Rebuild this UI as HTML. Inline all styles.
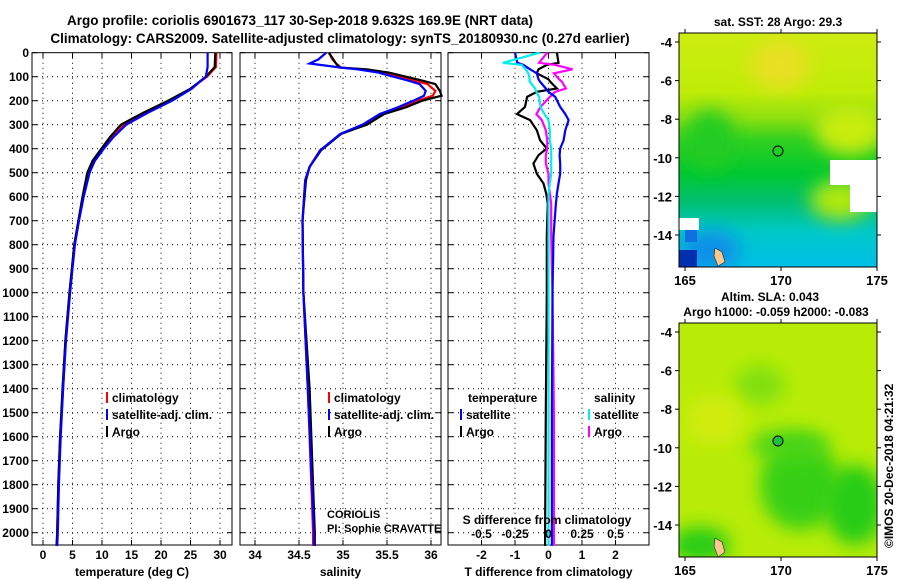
<!DOCTYPE html>
<html><head><meta charset="utf-8"><style>
html,body{margin:0;padding:0;background:#fff;width:900px;height:580px;overflow:hidden}
svg text{font-family:"Liberation Sans",sans-serif;font-weight:bold;fill:#000}
</style></head><body>
<svg id="fig" width="900" height="580" xmlns="http://www.w3.org/2000/svg">
<defs>
<linearGradient id="sstg" gradientUnits="userSpaceOnUse" x1="0" y1="33" x2="0" y2="267">
<stop offset="0" stop-color="#ccec10"/><stop offset="0.25" stop-color="#c0ec08"/>
<stop offset="0.36" stop-color="#90e010"/><stop offset="0.46" stop-color="#30d020"/>
<stop offset="0.6" stop-color="#00c830"/><stop offset="0.72" stop-color="#00c070"/>
<stop offset="0.85" stop-color="#00c8c8"/><stop offset="1" stop-color="#00c0e8"/></linearGradient>
<filter id="blur" x="-60%" y="-60%" width="220%" height="220%"><feGaussianBlur stdDeviation="9"/></filter>
<clipPath id="c1"><rect x="679" y="33" width="198" height="234"/></clipPath>
<clipPath id="c2"><rect x="679" y="323" width="198" height="234"/></clipPath>
</defs>
<text x="300" y="25" font-size="13.5" text-anchor="middle">Argo profile: coriolis 6901673_117 30-Sep-2018 9.632S 169.9E (NRT data)</text>
<text x="340" y="43" font-size="13.5" text-anchor="middle">Climatology: CARS2009. Satellite-adjusted climatology: synTS_20180930.nc (0.27d earlier)</text>
<g id="plots"></g>
<g>
<text x="778" y="26" font-size="12" text-anchor="middle">sat. SST: 28 Argo: 29.3</text>
<g clip-path="url(#c1)">
<rect x="679" y="33" width="198" height="234" fill="url(#sstg)"/>
<ellipse cx="780" cy="65" rx="30" ry="25" fill="#e8e020" filter="url(#blur)"/>
<ellipse cx="850" cy="130" rx="35" ry="25" fill="#c8ec10" filter="url(#blur)"/>
<ellipse cx="710" cy="140" rx="25" ry="30" fill="#20cc20" filter="url(#blur)"/>
<ellipse cx="710" cy="250" rx="30" ry="20" fill="#1090e8" filter="url(#blur)"/>
<ellipse cx="840" cy="200" rx="30" ry="20" fill="#b0e810" filter="url(#blur)"/>
<rect x="679" y="250" width="18" height="17" fill="#0030b0"/>
<rect x="830" y="160" width="47" height="25" fill="#fff"/>
<rect x="850" y="185" width="27" height="27" fill="#fff"/>
<rect x="679" y="218" width="20" height="12" fill="#fff"/>
<rect x="685" y="230" width="12" height="12" fill="#1070e0"/>
<path d="M715 248 L722 252 L725 262 L718 266 L714 256Z" fill="#f8c890" stroke="#000" stroke-width="0.5"/>
</g>
<rect x="679" y="33" width="198" height="234" fill="none" stroke="#000"/>
<circle cx="778" cy="151" r="5" fill="none" stroke="#000"/>
</g>
<g>
<text x="770" y="301" font-size="12" text-anchor="middle">Altim. SLA: 0.043</text>
<text x="776" y="316" font-size="12" text-anchor="middle">Argo h1000: -0.059 h2000: -0.083</text>
<g clip-path="url(#c2)">
<rect x="679" y="323" width="198" height="234" fill="#b8ec08"/>
<ellipse cx="800" cy="485" rx="40" ry="45" fill="#38d018" filter="url(#blur)"/>
<ellipse cx="855" cy="505" rx="30" ry="40" fill="#28cc18" filter="url(#blur)"/>
<ellipse cx="790" cy="445" rx="40" ry="15" fill="#48d418" filter="url(#blur)"/>
<ellipse cx="760" cy="385" rx="25" ry="20" fill="#80e010" filter="url(#blur)"/>
<ellipse cx="700" cy="545" rx="30" ry="18" fill="#28cc18" filter="url(#blur)"/>
<ellipse cx="715" cy="420" rx="30" ry="25" fill="#d0ec10" filter="url(#blur)"/>
<path d="M715 538 L722 542 L725 552 L718 557 L714 546Z" fill="#f8c890" stroke="#000" stroke-width="0.5"/>
</g>
<rect x="679" y="323" width="198" height="234" fill="none" stroke="#000"/>
<circle cx="778" cy="441" r="5" fill="#20c040" stroke="#000"/>
</g>
<text transform="translate(893,548) rotate(-90)" font-size="12" font-weight="normal">©IMOS 20-Dec-2018 04:21:32</text>
</svg>
<script>
const depthTicks=[0,100,200,300,400,500,600,700,800,900,1000,1100,1200,1300,1400,1500,1600,1700,1800,1900,2000];
const tempTicks=[0,5,10,15,20,25,30];
const salTicks=[34,34.5,35,35.5,36];
const salTickLabels=["34","34.5","35","35.5","36"];
const diffTicks=[-2,-1,0,1,2];
const sdiffTicks=[-0.5,-0.25,0,0.25,0.5];
const sdiffTickLabels=["-0.5","-0.25","0","0.25","0.5"];
const latTicks=[-4,-6,-8,-10,-12,-14];
const lonTicks=[165,170,175];

const tDepth=[0,60,100,150,200,250,300,350,400,450,500,600,700,800,900,1000,1200,1400,1600,1800,2000,2055];
const tArgo=[29.2,29.1,27.6,25,21.2,17,13.2,11.4,9.9,8.4,7.5,6.7,6.0,5.3,4.9,4.5,3.8,3.3,2.9,2.6,2.4,2.3];
const tClim=[29.4,29.3,27.8,25,21.6,17.4,13.6,11.6,10.0,8.6,7.7,6.8,6.0,5.3,4.9,4.5,3.8,3.4,2.9,2.6,2.4,2.3];
const tSat=[27.9,27.9,27.6,25.2,21.9,17.8,14.1,12,10.3,8.8,7.9,6.9,6.1,5.4,5.0,4.6,3.9,3.4,3.0,2.7,2.5,2.4];

const sDepth=[0,28,45,62,69,83,117,131,159,179,200,228,255,300,338,407,476,531,700,1000,1400,2000,2055];
const sArgo=[34.84,34.89,34.92,34.96,35.27,35.52,35.91,36.05,36.1,36.12,35.9,35.71,35.47,35.27,34.98,34.75,34.62,34.58,34.54,34.55,34.62,34.68,34.68];
const sClim=[34.84,34.88,34.92,34.98,35.22,35.45,35.82,35.96,36.05,36.02,35.85,35.66,35.45,35.24,34.98,34.74,34.62,34.57,34.54,34.55,34.6,34.66,34.66];
const sSat=[34.81,34.72,34.62,34.98,35.16,35.4,35.75,35.87,35.94,35.92,35.8,35.62,35.42,35.22,34.97,34.74,34.62,34.57,34.54,34.55,34.6,34.67,34.67];

const dDepth=[0,42,51,69,86,111,121,149,163,184,226,256,281,323,365,399,427,462,504,545,587,629,764,1000,1500,2000,2055];
const dtArgo=[0.25,0.3,-0.05,-0.3,-0.35,0.0,0.05,0.25,-0.35,-0.64,-0.7,-0.94,-0.55,-0.35,-0.25,-0.05,-0.3,-0.45,-0.35,-0.15,-0.07,-0.02,-0.05,-0.05,-0.08,-0.1,-0.1];
const dtSat=[-1.0,-0.93,-0.75,-0.55,-0.35,-0.3,-0.25,-0.08,0.0,0.2,0.35,0.5,0.6,0.5,0.45,0.35,0.33,0.35,0.35,0.3,0.25,0.22,0.15,0.12,0.1,0.1,0.1];
const dsSat=[-0.065,-0.34,-0.2,-0.17,-0.15,-0.14,-0.14,-0.1,-0.09,-0.07,-0.06,-0.03,0,0.01,0.01,0.02,0.02,0.02,0.02,0.01,0.0,0.0,0.0,0.0,0.0,0.0,0.0];
const dsArgo=[-0.01,-0.07,0.05,0.18,0.04,0.08,0.1,0.13,0.05,0.01,-0.06,-0.09,-0.05,-0.02,-0.01,-0.01,-0.02,-0.02,0.0,0.0,0.01,0.02,0.02,0.03,0.04,0.04,0.04];

const NS="http://www.w3.org/2000/svg";
const Y0=52.7, PY=0.24, YB=545;
const yS=d=>Y0+d*PY;
const xT=v=>43+v*5.9;
const xS=v=>255+(v-34)*88;
const xD=v=>548.5+v*33.5;
const xSD=v=>548.5+v*134;
const g=document.getElementById('plots');
function el(tag,attrs,parent){const e=document.createElementNS(NS,tag);for(const k in attrs)e.setAttribute(k,attrs[k]);(parent||g).appendChild(e);return e;}
function txt(x,y,s,size,anchor,parent){const t=el('text',{x:x,y:y,'font-size':size,'text-anchor':anchor||'middle'},parent);t.textContent=s;return t;}

const panels=[{x0:32,x1:232,name:'temperature-panel',ticks:tempTicks,labels:tempTicks.map(String),fx:xT,xlabel:'temperature (deg C)'},
{x0:240,x1:441,name:'salinity-panel',ticks:salTicks,labels:salTickLabels,fx:xS,xlabel:'salinity'},
{x0:448,x1:649,name:'difference-panel',ticks:diffTicks,labels:diffTicks.map(String),fx:xD,xlabel:'T difference from climatology'}];

panels.forEach((p,i)=>{
  const pg=el('g',{});
  
  
  depthTicks.forEach(d=>{
    const y=yS(d);
    if(d>0) el('line',{x1:p.x0,x2:p.x1,y1:y,y2:y,stroke:'#000','stroke-dasharray':'1,4','stroke-width':1},pg);
    el('line',{x1:p.x0,x2:p.x0+5,y1:y,y2:y,stroke:'#000'},pg);
    el('line',{x1:p.x1-5,x2:p.x1,y1:y,y2:y,stroke:'#000'},pg);
    if(i===0){const t=txt(29,y+4.5,String(d),12,'end',pg);}
  });
  p.ticks.forEach((v,k)=>{
    const x=p.fx(v);
    el('line',{x1:x,x2:x,y1:Y0,y2:YB,stroke:'#000','stroke-dasharray':'1,4'},pg);
    el('line',{x1:x,x2:x,y1:YB,y2:YB-5,stroke:'#000'},pg);
    el('line',{x1:x,x2:x,y1:Y0,y2:Y0+5,stroke:'#000'},pg);
    const t=txt(x,559,p.labels[k],12,'middle',pg);
    
    
  });
  el('rect',{x:p.x0,y:Y0,width:p.x1-p.x0,height:YB-Y0,fill:'none',stroke:'#000'},pg);
  const xl=txt((p.x0+p.x1)/2,576,p.xlabel,12,'middle',pg);
  
  
});

function line(ds,vs,fx,color,name){
  const pts=ds.map((d,k)=>fx(vs[k]).toFixed(1)+','+yS(d).toFixed(1)).join(' ');
  const e=el('polyline',{points:pts,fill:'none',stroke:color,'stroke-width':2.2});
  
  
}
line(tDepth,tClim,xT,'#ff0000','temp-climatology-line');
line(tDepth,tArgo,xT,'#000','temp-argo-line');
line(tDepth,tSat,xT,'#0000ff','temp-satellite-line');
line(sDepth,sClim,xS,'#ff0000','salinity-climatology-line');
line(sDepth,sArgo,xS,'#000','salinity-argo-line');
line(sDepth,sSat,xS,'#0000ff','salinity-satellite-line');
line(dDepth,dtArgo,xD,'#000','tdiff-argo-line');
line(dDepth,dsArgo,xSD,'#ff00ff','sdiff-argo-line');
line(dDepth,dtSat,xD,'#0000ff','tdiff-satellite-line');
line(dDepth,dsSat,xSD,'#00eeee','sdiff-satellite-line');

function legend(x,y,color,label){
  const lg=el('g',{});
  
  
  el('line',{x1:x,x2:x,y1:y-11,y2:y,stroke:color,'stroke-width':2},lg);
  txt(x+5,y-1,label,12,'start',lg);
}
legend(107,403,'#ff0000','climatology');legend(107,420,'#0000ff','satellite-adj. clim.');legend(107,437,'#000','Argo');
legend(329,403,'#ff0000','climatology');legend(329,420,'#0000ff','satellite-adj. clim.');legend(329,437,'#000','Argo');
let t1=txt(468,402,'temperature',12,'start');
let t2=txt(594,402,'salinity',12,'start');
legend(461,420,'#0000ff','satellite');legend(461,437,'#000','Argo');
legend(589,420,'#00eeee','satellite');legend(589,437,'#ff00ff','Argo');
let c1=txt(327,518,'CORIOLIS',11,'start');c1.setAttribute('font-weight','normal');
let c2=txt(327,532,'PI: Sophie CRAVATTE',11,'start');c2.setAttribute('font-weight','normal');
let sd=txt(547,524,'S difference from climatology',12,'middle');
sdiffTicks.forEach((v,k)=>{const t=txt(xSD(v),538,sdiffTickLabels[k],12,'middle');});

const svg=document.getElementById('fig');
const lonX=v=>685+(v-165)*19.2;
[[42,'sst'],[332,'sla']].forEach(([top,nm])=>{
  const latY=v=>top+(-4-v)*19.3;
  const yb=nm==='sst'?267:557, yt=nm==='sst'?33:323;
  latTicks.forEach(v=>{const y=latY(v);
    el('line',{x1:679,x2:675,y1:y,y2:y,stroke:'#000'},svg);el('line',{x1:877,x2:881,y1:y,y2:y,stroke:'#000'},svg);
    const t=txt(672,y+5,String(v),13,'end',svg);});
  lonTicks.forEach(v=>{const x=lonX(v);
    el('line',{x1:x,x2:x,y1:yb,y2:yb+4,stroke:'#000'},svg);el('line',{x1:x,x2:x,y1:yt,y2:yt-4,stroke:'#000'},svg);
    const t=txt(x,yb+18,String(v),13,'middle',svg);});
});
</script>
</body></html>
